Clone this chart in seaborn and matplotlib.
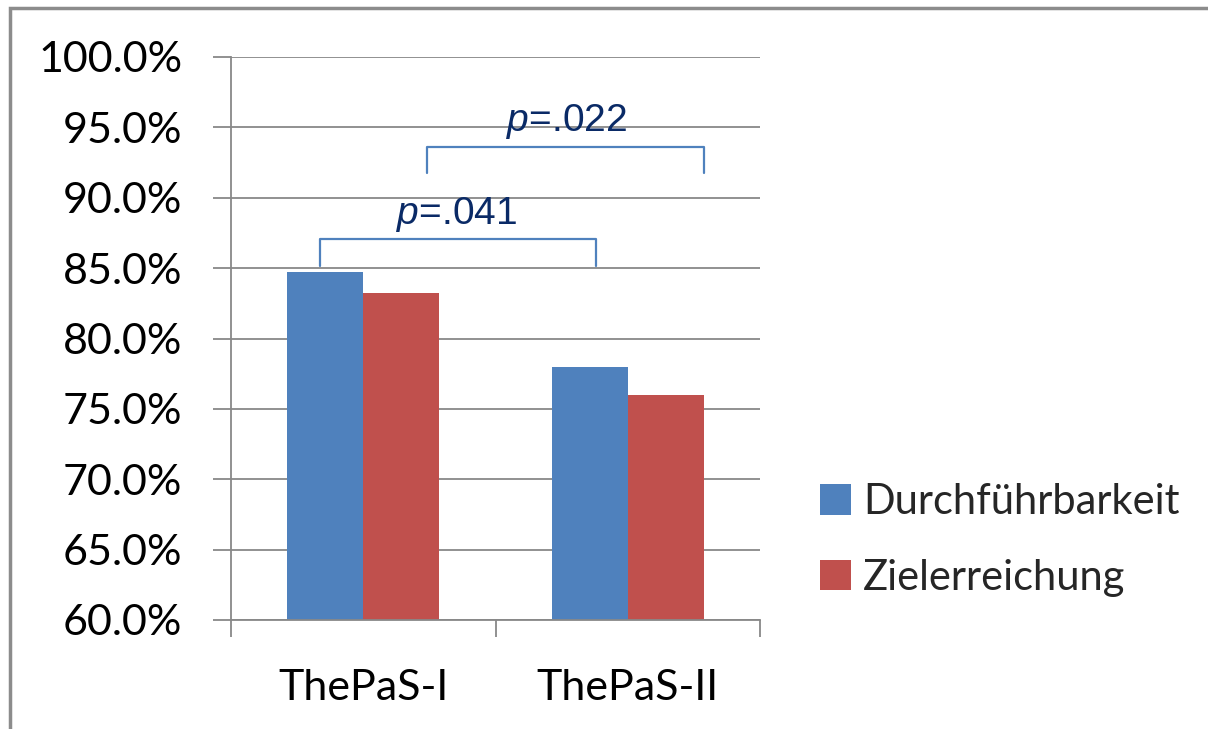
import matplotlib
matplotlib.use("Agg")
import matplotlib.pyplot as plt
import seaborn as sns
import pandas as pd
from matplotlib.patches import Rectangle
from matplotlib.ticker import FuncFormatter

categories = ["ThePaS-I", "ThePaS-II"]
series = ["Durchführbarkeit", "Zielerreichung"]
durchfuehrbarkeit = [84.7, 78.0]
zielerreichung = [83.2, 76.0]
colors = ["#4F81BD", "#C0504D"]

df = pd.DataFrame({
    "Gruppe": categories * 2,
    "Serie": [series[0]] * 2 + [series[1]] * 2,
    "Wert": durchfuehrbarkeit + zielerreichung,
})

sns.set_theme(style="white")
plt.rcParams["font.family"] = ["Lato", "DejaVu Sans"]
plt.rcParams["mathtext.fontset"] = "custom"
plt.rcParams["mathtext.it"] = "Liberation Sans:italic"
plt.rcParams["mathtext.rm"] = "Liberation Sans"

W, H = 1208, 729
fig = plt.figure(figsize=(W / 100, H / 100), dpi=100)
fig.patch.set_facecolor("white")
ax = fig.add_axes([231 / W, 1 - 620 / H, (760 - 231) / W, (620 - 57) / H])

sns.barplot(data=df, x="Gruppe", y="Wert", hue="Serie", palette=colors,
            width=0.575, gap=0, ax=ax, saturation=1, legend=True, errorbar=None,
            linewidth=0, edgecolor="none")

grid_c = "#888888"
ax.set_ylim(60, 100)
ax.set_xlim(-0.5, 1.5)
ax.set_yticks([60, 65, 70, 75, 80, 85, 90, 95, 100])
ax.yaxis.set_major_formatter(FuncFormatter(lambda v, p: f"{v:.1f}%"))
ax.yaxis.grid(True, color=grid_c, linewidth=1.3)
ax.set_axisbelow(True)
ax.tick_params(axis="y", length=13, width=1.3, color=grid_c, labelsize=31, pad=22,
               labelcolor="black", direction="out", left=True)
ax.set_xticks([0, 1])
ax.set_xticklabels(categories)
ax.set_xticks([-0.5, 0.5, 1.5], minor=True)
ax.tick_params(axis="x", which="major", length=0, labelsize=31, pad=35, labelcolor="black")
ax.tick_params(axis="x", which="minor", length=12, width=1.3, color=grid_c, direction="out", bottom=True)
ax.set_xlabel("")
ax.set_ylabel("")
for s in ["top", "right"]:
    ax.spines[s].set_visible(False)
for s in ["left", "bottom"]:
    ax.spines[s].set_color(grid_c)
    ax.spines[s].set_linewidth(1.3)

# significance brackets
br_c = "#4F81BD"
ax.plot([-0.164, -0.164, 0.880, 0.880], [85.15, 87.07, 87.07, 85.15],
        color=br_c, lw=1.6, solid_joinstyle="round", clip_on=False)
ax.plot([0.241, 0.241, 1.288, 1.288], [91.76, 93.6, 93.6, 91.76],
        color=br_c, lw=1.6, solid_joinstyle="round", clip_on=False)
ax.text(0.354, 88.13, r"$\it{p}$=.041", ha="center", va="baseline",
        fontsize=28, color="#0A2A66", family="Liberation Sans")
ax.text(0.770, 94.74, r"$\it{p}$=.022", ha="center", va="baseline",
        fontsize=28, color="#0A2A66", family="Liberation Sans")

leg = ax.legend(loc="center left", bbox_to_anchor=(782 / W, 1 - 540 / H),
                bbox_transform=fig.transFigure, frameon=False, fontsize=30,
                handlelength=0.75, handleheight=0.75, handletextpad=0.3,
                labelspacing=0.9, title=None)

# outer frame
fig.patches.append(Rectangle((10 / W, -0.05), 1.2, 1 - 8 / H + 0.05,
                             transform=fig.transFigure, fill=False,
                             edgecolor="#8c8c8c", linewidth=2.5))

fig.savefig("out.png", dpi=100)
